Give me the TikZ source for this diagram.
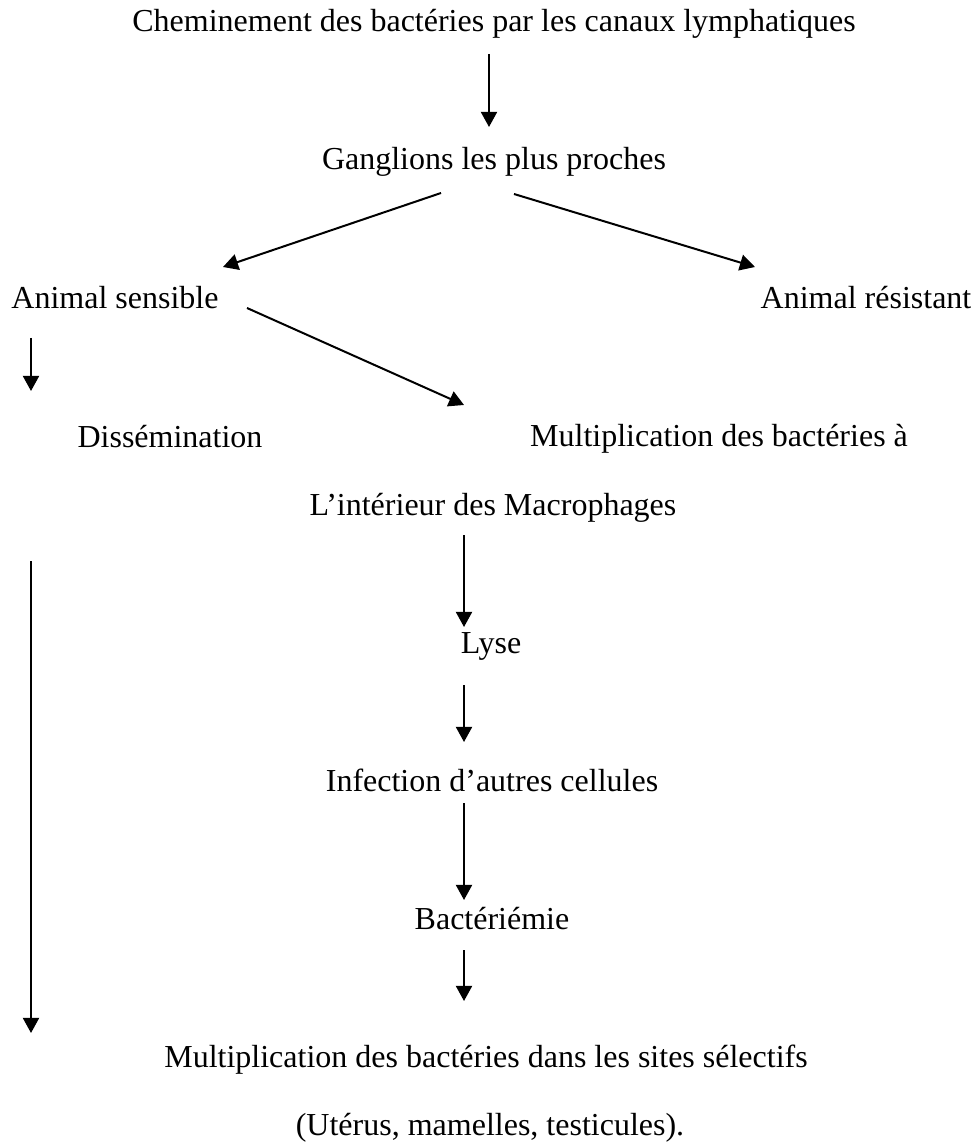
\documentclass[tikz,border=0pt]{standalone}
\usepackage{fontspec}
\setmainfont{Liberation Serif}
\usetikzlibrary{arrows.meta}

\begin{document}
\begin{tikzpicture}[x=0.75pt, y=-0.75pt,
      lbl/.style = {inner sep=0pt, anchor=base, font=\fontsize{24}{29}\selectfont},
      ar/.style = {-{Triangle[length=11.3pt, width=12pt]}, line width=1.5pt} ]
    \useasboundingbox (0,0) rectangle (978,1144);
    \node[lbl] (chem)  at (494,32)   {Cheminement des bactéries par les canaux lymphatiques};
    \node[lbl] (gang)  at (494,170)  {Ganglions les plus proches};
    \node[lbl] (sens)  at (115,309)  {Animal sensible};
    \node[lbl] (resi)  at (866,309)  {Animal résistant};
    \node[lbl] (diss)  at (170,447)  {Dissémination};
    \node[lbl] (mult)  at (719,446)  {Multiplication des bactéries à};
    \node[lbl] (intr)  at (493,515)  {L’intérieur des Macrophages};
    \node[lbl] (lyse)  at (491,653)  {Lyse};
    \node[lbl] (infc)  at (492,791)  {Infection d’autres cellules};
    \node[lbl] (bact)  at (492,929)  {Bactériémie};
    \node[lbl] (sites) at (486,1067) {Multiplication des bactéries dans les sites sélectifs};
    \node[lbl] (uter)  at (490,1135) {(Utérus, mamelles, testicules).};
    \draw[ar] ([shift={(-5,22)}]chem.base) -- ([shift={(-5,-43)}]gang.base);
    \draw[ar] ([shift={(-53,23)}]gang.base) -- ([shift={(108,-42)}]sens.base);
    \draw[ar] ([shift={(20,24)}]gang.base) -- ([shift={(-111,-42)}]resi.base);
    \draw[ar] ([shift={(132,-1)}]sens.base) -- ([shift={(-255,-41)}]mult.base);
    \draw[ar] ([shift={(-84,29)}]sens.base) -- ([shift={(-139,-56)}]diss.base);
    \draw[ar] ([shift={(-139,114)}]diss.base) -- ([shift={(-455,-34)}]sites.base);
    \draw[ar] ([shift={(-29,20)}]intr.base) -- ([shift={(-27,-26)}]lyse.base);
    \draw[ar] ([shift={(-27,32)}]lyse.base) -- ([shift={(-28,-49)}]infc.base);
    \draw[ar] ([shift={(-28,12)}]infc.base) -- ([shift={(-28,-29)}]bact.base);
    \draw[ar] ([shift={(-28,21)}]bact.base) -- ([shift={(-22,-66)}]sites.base);
  \end{tikzpicture}
\end{document}
